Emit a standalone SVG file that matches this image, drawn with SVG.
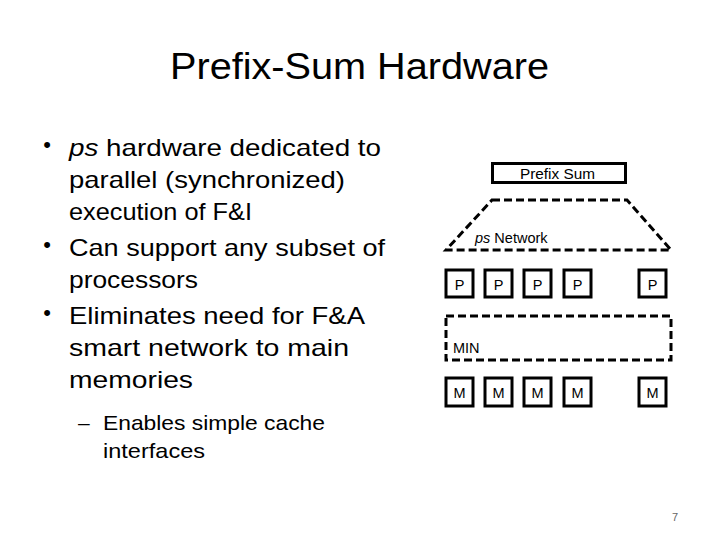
<svg xmlns="http://www.w3.org/2000/svg" width="720" height="540" viewBox="0 0 720 540">
<style>
text{font-family:"Liberation Sans",Arial,sans-serif;fill:#000}
.title{font-size:36px}
.body{font-size:24px}
.sub{font-size:21px}
.bul{font-size:22px;text-anchor:middle}
.lbl{font-size:14.5px}
.box{fill:#fff;stroke:#000;stroke-width:3}
.dash{fill:none;stroke:#000;stroke-width:3;stroke-dasharray:8 4}
.c{text-anchor:middle}
</style>
<rect width="720" height="540" fill="#fff"/>
<text class="title" x="170" y="79" textLength="379" lengthAdjust="spacingAndGlyphs">Prefix-Sum Hardware</text>
<g id="bullets">
<text class="bul" x="47" y="152">•</text>
<text class="body" x="69" y="156" textLength="312" lengthAdjust="spacingAndGlyphs"><tspan font-style="italic">ps</tspan> hardware dedicated to</text>
<text class="body" x="69" y="188" textLength="276" lengthAdjust="spacingAndGlyphs">parallel (synchronized)</text>
<text class="body" x="69" y="220" textLength="183" lengthAdjust="spacingAndGlyphs">execution of F&amp;I</text>
<text class="bul" x="47" y="252">•</text>
<text class="body" x="69" y="256" textLength="316" lengthAdjust="spacingAndGlyphs">Can support any subset of</text>
<text class="body" x="69" y="288" textLength="129" lengthAdjust="spacingAndGlyphs">processors</text>
<text class="bul" x="47" y="320">•</text>
<text class="body" x="69" y="324" textLength="296" lengthAdjust="spacingAndGlyphs">Eliminates need for F&amp;A</text>
<text class="body" x="69" y="356" textLength="280" lengthAdjust="spacingAndGlyphs">smart network to main</text>
<text class="body" x="69" y="388" textLength="124" lengthAdjust="spacingAndGlyphs">memories</text>
<text class="sub" x="78" y="430">–</text>
<text class="sub" x="103" y="430" textLength="222" lengthAdjust="spacingAndGlyphs">Enables simple cache</text>
<text class="sub" x="103" y="458" textLength="102" lengthAdjust="spacingAndGlyphs">interfaces</text>
</g>
<g id="prefix-sum">
<rect class="box" x="492.5" y="163.5" width="133" height="19"/>
<text class="lbl" x="520" y="179" textLength="75" lengthAdjust="spacingAndGlyphs">Prefix Sum</text>
</g>
<g id="connectors">
<path class="dash" d="M492,200 L627,200 L671,250 L446,250 Z"/>
</g>
<g id="ps-network">
<text class="lbl" x="475" y="243" font-size="15"><tspan font-style="italic">ps</tspan> Network</text>
</g>
<g id="processors">
<rect class="box" x="446" y="270" width="27" height="27"/><text class="lbl c" x="459.5" y="290">P</text>
<rect class="box" x="485" y="270" width="27" height="27"/><text class="lbl c" x="498.5" y="290">P</text>
<rect class="box" x="524" y="270" width="27" height="27"/><text class="lbl c" x="537.5" y="290">P</text>
<rect class="box" x="564" y="270" width="27" height="27"/><text class="lbl c" x="577.5" y="290">P</text>
<rect class="box" x="639" y="270" width="27" height="27"/><text class="lbl c" x="652.5" y="290">P</text>
</g>
<g id="min">
<rect class="dash" x="446" y="316" width="225" height="44"/>
<text class="lbl" x="453" y="353">MIN</text>
</g>
<g id="memories">
<rect class="box" x="446" y="378" width="27" height="28"/><text class="lbl c" x="459.5" y="398">M</text>
<rect class="box" x="485" y="378" width="27" height="28"/><text class="lbl c" x="498.5" y="398">M</text>
<rect class="box" x="524" y="378" width="27" height="28"/><text class="lbl c" x="537.5" y="398">M</text>
<rect class="box" x="564" y="378" width="27" height="28"/><text class="lbl c" x="577.5" y="398">M</text>
<rect class="box" x="639" y="378" width="27" height="28"/><text class="lbl c" x="652.5" y="398">M</text>
</g>
<text x="672" y="521" font-size="11" style="fill:#666">7</text>
</svg>
